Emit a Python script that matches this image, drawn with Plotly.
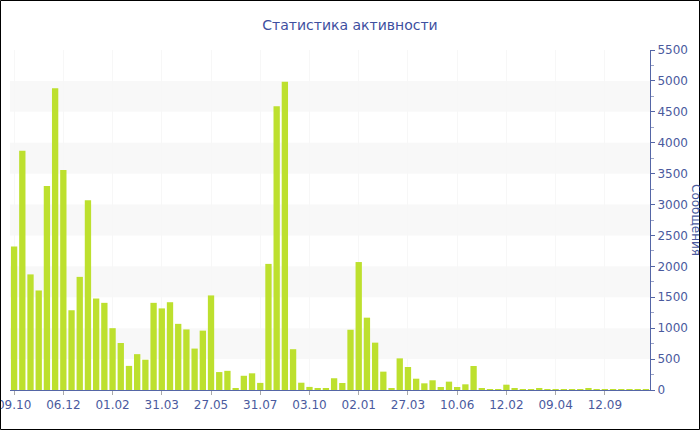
import plotly.graph_objects as go

title_text = "Статистика активности"
y_title = "Сообщения"

# message counts per period (78 periods)
values = [
    2320, 3870, 1870, 1610, 3300, 4880, 3560, 1290, 1830, 3070,
    1480, 1410, 1000, 760, 390, 580, 490, 1410, 1320, 1420,
    1070, 980, 670, 960, 1530, 290, 310, 30, 230, 270,
    115, 2040, 4590, 4985, 660, 118, 50, 27, 32, 190,
    113, 975, 2070, 1170, 766, 297, 22, 512, 372, 183,
    108, 157, 49, 135, 49, 92, 388, 27, 16, 16,
    86, 22, 12, 14, 20, 10, 8, 15, 12, 10,
    18, 9, 11, 8, 10, 12, 9, 7,
]
periods = list(range(len(values)))

tick_positions = [0, 6, 12, 18, 24, 30, 36, 42, 48, 54, 60, 66, 72]
tick_labels = ["09.10", "06.12", "01.02", "31.03", "27.05", "31.07", "03.10",
               "02.01", "27.03", "10.06", "12.02", "09.04", "12.09"]

band_starts = [500, 1500, 2500, 3500, 4500]
band_height = 500

bar_color = "#bde02e"
text_color = "#4a5a9e"
axis_color = "#5566a6"

W, H = 700, 430
ML, MR, MT, MB = 10, 50, 50, 40
PW, PH = W - ML - MR, H - MT - MB

fig = go.Figure()
fig.add_trace(go.Bar(x=periods, y=values, marker=dict(color=bar_color, line=dict(width=0)),
                     hoverinfo="y"))

shapes = []
for b in band_starts:
    shapes.append(dict(type="rect", xref="paper", yref="y", x0=0, x1=1, y0=b, y1=b + band_height,
                       fillcolor="#f8f8f8", line=dict(width=0), layer="below"))
# outer frame
shapes.append(dict(type="rect", xref="paper", yref="paper",
                   x0=(0.5 - ML) / PW, x1=(W - 0.5 - ML) / PW,
                   y0=(PH - (H - 0.5 - MT)) / PH, y1=(PH - (0.5 - MT)) / PH,
                   line=dict(color="black", width=1), fillcolor="rgba(0,0,0,0)", layer="above"))

fig.update_layout(
    width=W, height=H,
    margin=dict(l=ML, r=MR, t=MT, b=MB, autoexpand=False),
    paper_bgcolor="white", plot_bgcolor="white",
    font=dict(family="DejaVu Sans", size=12, color=text_color),
    title=dict(text=title_text, x=0.5, xref="container", y=1 - 25 / H, yanchor="middle",
               font=dict(size=14, color="#3e4f9f")),
    bargap=0.23,
    showlegend=False,
    shapes=shapes,
    annotations=[dict(text=y_title, xref="paper", yref="paper",
                      x=(696 - ML) / PW, y=0.5, xanchor="center", yanchor="middle",
                      textangle=90, showarrow=False, font=dict(size=12, color=text_color))],
)
fig.update_xaxes(
    range=[-0.5, len(values) - 0.5],
    tickmode="array", tickvals=tick_positions, ticktext=tick_labels,
    showline=True, linecolor=axis_color, linewidth=1,
    ticks="outside", ticklen=4, tickcolor="#aaaaaa",
    showgrid=True, gridcolor="#f7f7f7", zeroline=False,
    automargin=False, ticklabeloverflow="allow",
)
fig.update_yaxes(
    side="right", range=[0, 5500], dtick=500, tick0=0,
    showline=True, linecolor=axis_color, linewidth=1,
    ticks="outside", ticklen=4, tickcolor=axis_color,
    minor=dict(dtick=250, ticks="outside", ticklen=3, tickcolor="#9aa3c8", showgrid=False),
    showgrid=False, zeroline=False,
    automargin=False, ticklabeloverflow="allow",
)

fig.write_html("out.html", config={"displayModeBar": False},
               post_script="document.body.style.margin='0';document.body.style.overflow='hidden';")
